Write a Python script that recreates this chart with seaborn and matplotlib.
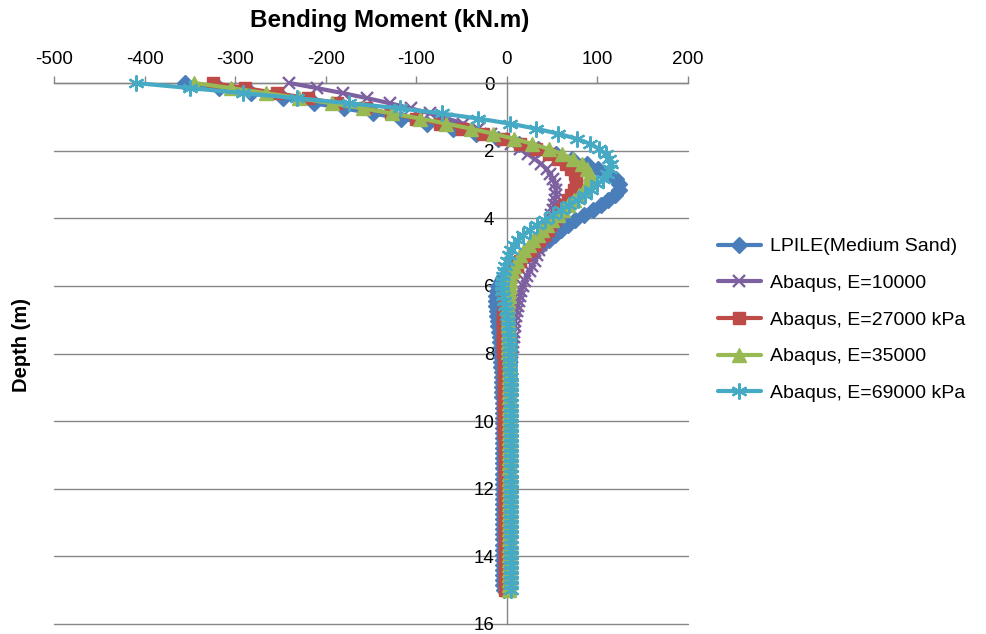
import matplotlib
matplotlib.use("Agg")
import matplotlib.pyplot as plt
import seaborn as sns

# Pile depth nodes (m)
depth_m = [
    0.0, 0.15, 0.3, 0.45, 0.6, 0.75, 0.9, 1.05, 1.2, 1.35,
    1.5, 1.65, 1.8, 1.95, 2.1, 2.25, 2.4, 2.55, 2.7, 2.85,
    3.0, 3.15, 3.3, 3.45, 3.6, 3.75, 3.9, 4.05, 4.2, 4.35,
    4.5, 4.65, 4.8, 4.95, 5.1, 5.25, 5.4, 5.55, 5.7, 5.85,
    6.0, 6.15, 6.3, 6.45, 6.6, 6.75, 6.9, 7.05, 7.2, 7.35,
    7.5, 7.65, 7.8, 7.95, 8.1, 8.25, 8.4, 8.55, 8.7, 8.85,
    9.0, 9.15, 9.3, 9.45, 9.6, 9.75, 9.9, 10.05, 10.2, 10.35,
    10.5, 10.65, 10.8, 10.95, 11.1, 11.25, 11.4, 11.55, 11.7, 11.85,
    12.0, 12.15, 12.3, 12.45, 12.6, 12.75, 12.9, 13.05, 13.2, 13.35,
    13.5, 13.65, 13.8, 13.95, 14.1, 14.25, 14.4, 14.55, 14.7, 14.85,
    15.0,
]

# Bending moment (kN.m) along the pile for each model
lpile_medium_sand = [
    -355, -318, -282, -247, -213, -180, -148, -117, -88, -60,
    -34, -10, 13, 34, 54, 72, 88, 101, 112, 120,
    124, 124, 119, 112, 104, 95, 85, 75, 67, 60,
    53, 46, 39, 31, 23, 15, 8, 2, -3, -7,
    -10, -11, -12, -12, -12, -11, -11, -10, -10, -9,
    -8, -8, -7, -7, -6, -6, -6, -5, -5, -5,
    -5, -5, -5, -4, -4, -4, -4, -4, -4, -4,
    -4, -4, -4, -4, -4, -4, -4, -4, -4, -4,
    -4, -4, -4, -4, -4, -4, -4, -4, -4, -4,
    -4, -4, -4, -4, -4, -4, -4, -4, -4, -4,
    -3,
]

abaqus_e10000 = [
    -240, -210, -181, -154, -129, -106, -85, -66, -48, -32,
    -18, -6, 5, 14, 23, 31, 38, 44, 48, 51,
    53, 54, 54, 53, 52, 51, 49, 48, 46, 45,
    43, 41, 38, 36, 33, 31, 28, 25, 22, 20,
    18, 16, 15, 13, 12, 11, 10, 9, 9, 8,
    8, 7, 7, 6, 6, 5, 5, 5, 4, 4,
    4, 4, 4, 3, 3, 3, 3, 3, 3, 3,
    3, 3, 3, 3, 3, 3, 3, 3, 3, 3,
    3, 3, 3, 3, 3, 3, 3, 3, 3, 3,
    3, 3, 3, 3, 3, 3, 3, 3, 3, 3,
    3,
]

abaqus_e27000 = [
    -325, -289, -254, -220, -188, -157, -128, -100, -74, -49,
    -26, -4, 15, 32, 46, 57, 65, 71, 75, 76,
    76, 74, 71, 68, 64, 60, 56, 52, 48, 45,
    41, 36, 31, 26, 20, 15, 11, 7, 4, 2,
    0, -1, -2, -3, -3, -3, -4, -4, -4, -4,
    -4, -4, -4, -4, -3, -3, -3, -3, -3, -3,
    -3, -3, -3, -3, -3, -3, -3, -3, -3, -3,
    -2, -2, -2, -2, -2, -2, -2, -2, -2, -2,
    -2, -2, -2, -2, -2, -2, -2, -2, -2, -2,
    -2, -2, -2, -2, -2, -2, -2, -2, -2, -2,
    -2,
]

abaqus_e35000 = [
    -345, -305, -266, -229, -193, -159, -127, -96, -67, -40,
    -15, 8, 28, 46, 61, 73, 83, 89, 92, 92,
    89, 85, 80, 74, 68, 62, 56, 50, 44, 39,
    34, 29, 24, 19, 14, 11, 8, 6, 4, 3,
    3, 2, 2, 1, 1, 1, 1, 1, 1, 1,
    1, 1, 1, 1, 2, 2, 2, 2, 2, 2,
    2, 2, 2, 2, 2, 2, 2, 2, 2, 2,
    2, 2, 2, 2, 2, 2, 2, 2, 2, 2,
    2, 2, 2, 2, 2, 2, 2, 2, 2, 2,
    2, 2, 2, 2, 2, 2, 2, 2, 2, 2,
    2,
]

abaqus_e69000 = [
    -410, -350, -291, -232, -174, -118, -72, -32, 3, 32,
    57, 77, 92, 102, 109, 113, 115, 114, 111, 106,
    100, 93, 86, 78, 69, 60, 51, 42, 33, 25,
    18, 12, 8, 5, 2, 0, -2, -3, -4, -5,
    -5, -5, -4, -3, -2, -1, 0, 1, 1, 2,
    2, 3, 3, 3, 4, 4, 4, 4, 5, 5,
    5, 5, 5, 5, 5, 5, 5, 5, 5, 5,
    5, 5, 5, 5, 5, 5, 5, 5, 5, 5,
    5, 5, 5, 5, 5, 5, 5, 5, 5, 5,
    5, 5, 5, 5, 5, 5, 5, 5, 5, 5,
    5,
]

series_labels = [
    "LPILE(Medium Sand)",
    "Abaqus, E=10000",
    "Abaqus, E=27000 kPa",
    "Abaqus, E=35000",
    "Abaqus, E=69000 kPa",
]
x_ticks = [-500, -400, -300, -200, -100, 0, 100, 200]
y_ticks = [0, 2, 4, 6, 8, 10, 12, 14, 16]

sns.set_theme(style="white")
plt.rcParams["font.family"] = ["Liberation Sans", "DejaVu Sans"]
plt.rcParams["axes.unicode_minus"] = False
plt.rcParams["text.color"] = "black"

fig = plt.figure(figsize=(9.86, 6.34), dpi=100)
ax = fig.add_axes([54 / 986, 1 - 624 / 634, (688 - 54) / 986, (624 - 83) / 634])

grey = "#868686"
styles = [
    # colour, marker, marker size, marker edge width
    ("#4A7EBB", "D", 8.5, 1.0),
    ("#7D60A0", "x", 8.5, 1.7),
    ("#BE4B48", "s", 8.0, 1.0),
    ("#98B954", "^", 9.5, 1.0),
    ("#46AAC5", (6, 2, 0), 11.5, 1.6),
]
values = [lpile_medium_sand, abaqus_e10000, abaqus_e27000,
          abaqus_e35000, abaqus_e69000]

for label, vals, (color, marker, ms, mew) in zip(series_labels, values, styles):
    sns.lineplot(
        x=vals, y=depth_m, sort=False, estimator=None, ax=ax,
        color=color, linewidth=3.0, marker=marker, markersize=ms,
        markeredgecolor=color, markerfacecolor=color, markeredgewidth=mew,
        label=label, clip_on=False, zorder=3,
    )

ax.set_xlim(-500, 200)
ax.set_ylim(16, 0)
ax.set_xticks(x_ticks)
ax.set_xticklabels([str(v) for v in x_ticks])
ax.set_yticks(y_ticks)
ax.set_yticklabels([str(v) for v in y_ticks])

ax.xaxis.tick_top()
ax.set_xlabel("")
ax.set_ylabel("")

for side in ("right", "bottom"):
    ax.spines[side].set_visible(False)
ax.spines["top"].set_color(grey)
ax.spines["top"].set_linewidth(1.0)
ax.spines["left"].set_position(("data", 0))
ax.spines["left"].set_color(grey)
ax.spines["left"].set_linewidth(1.0)

ax.set_axisbelow(True)
ax.yaxis.grid(True, color=grey, linewidth=1.0)
ax.xaxis.grid(False)
for gl in ax.yaxis.get_gridlines():
    gl.set_clip_on(False)
ax.tick_params(axis="x", direction="out", length=5, width=1, color=grey,
               labelsize=13.5, pad=6, labelcolor="black")
ax.tick_params(axis="y", direction="out", length=5, width=1, color=grey,
               labelsize=13.5, pad=4, labelcolor="black")

fig.text(390 / 986, 1 - 21 / 634, "Bending Moment (kN.m)", ha="center",
         va="center", fontsize=17.5, fontweight="bold", color="black")
fig.text(22 / 986, 1 - 345 / 634, "Depth (m)", rotation=90, ha="center",
         va="center", fontsize=14.5, fontweight="bold", color="black")

handles, labels = ax.get_legend_handles_labels()
ax.legend(handles, labels, loc="center left",
          bbox_to_anchor=(718 / 986, 1 - 320 / 634),
          bbox_transform=fig.transFigure, frameon=False, fontsize=14,
          handlelength=2.2, handletextpad=0.5, labelspacing=0.98,
          borderpad=0, borderaxespad=0, labelcolor="black")

fig.savefig("out.png", dpi=100)
